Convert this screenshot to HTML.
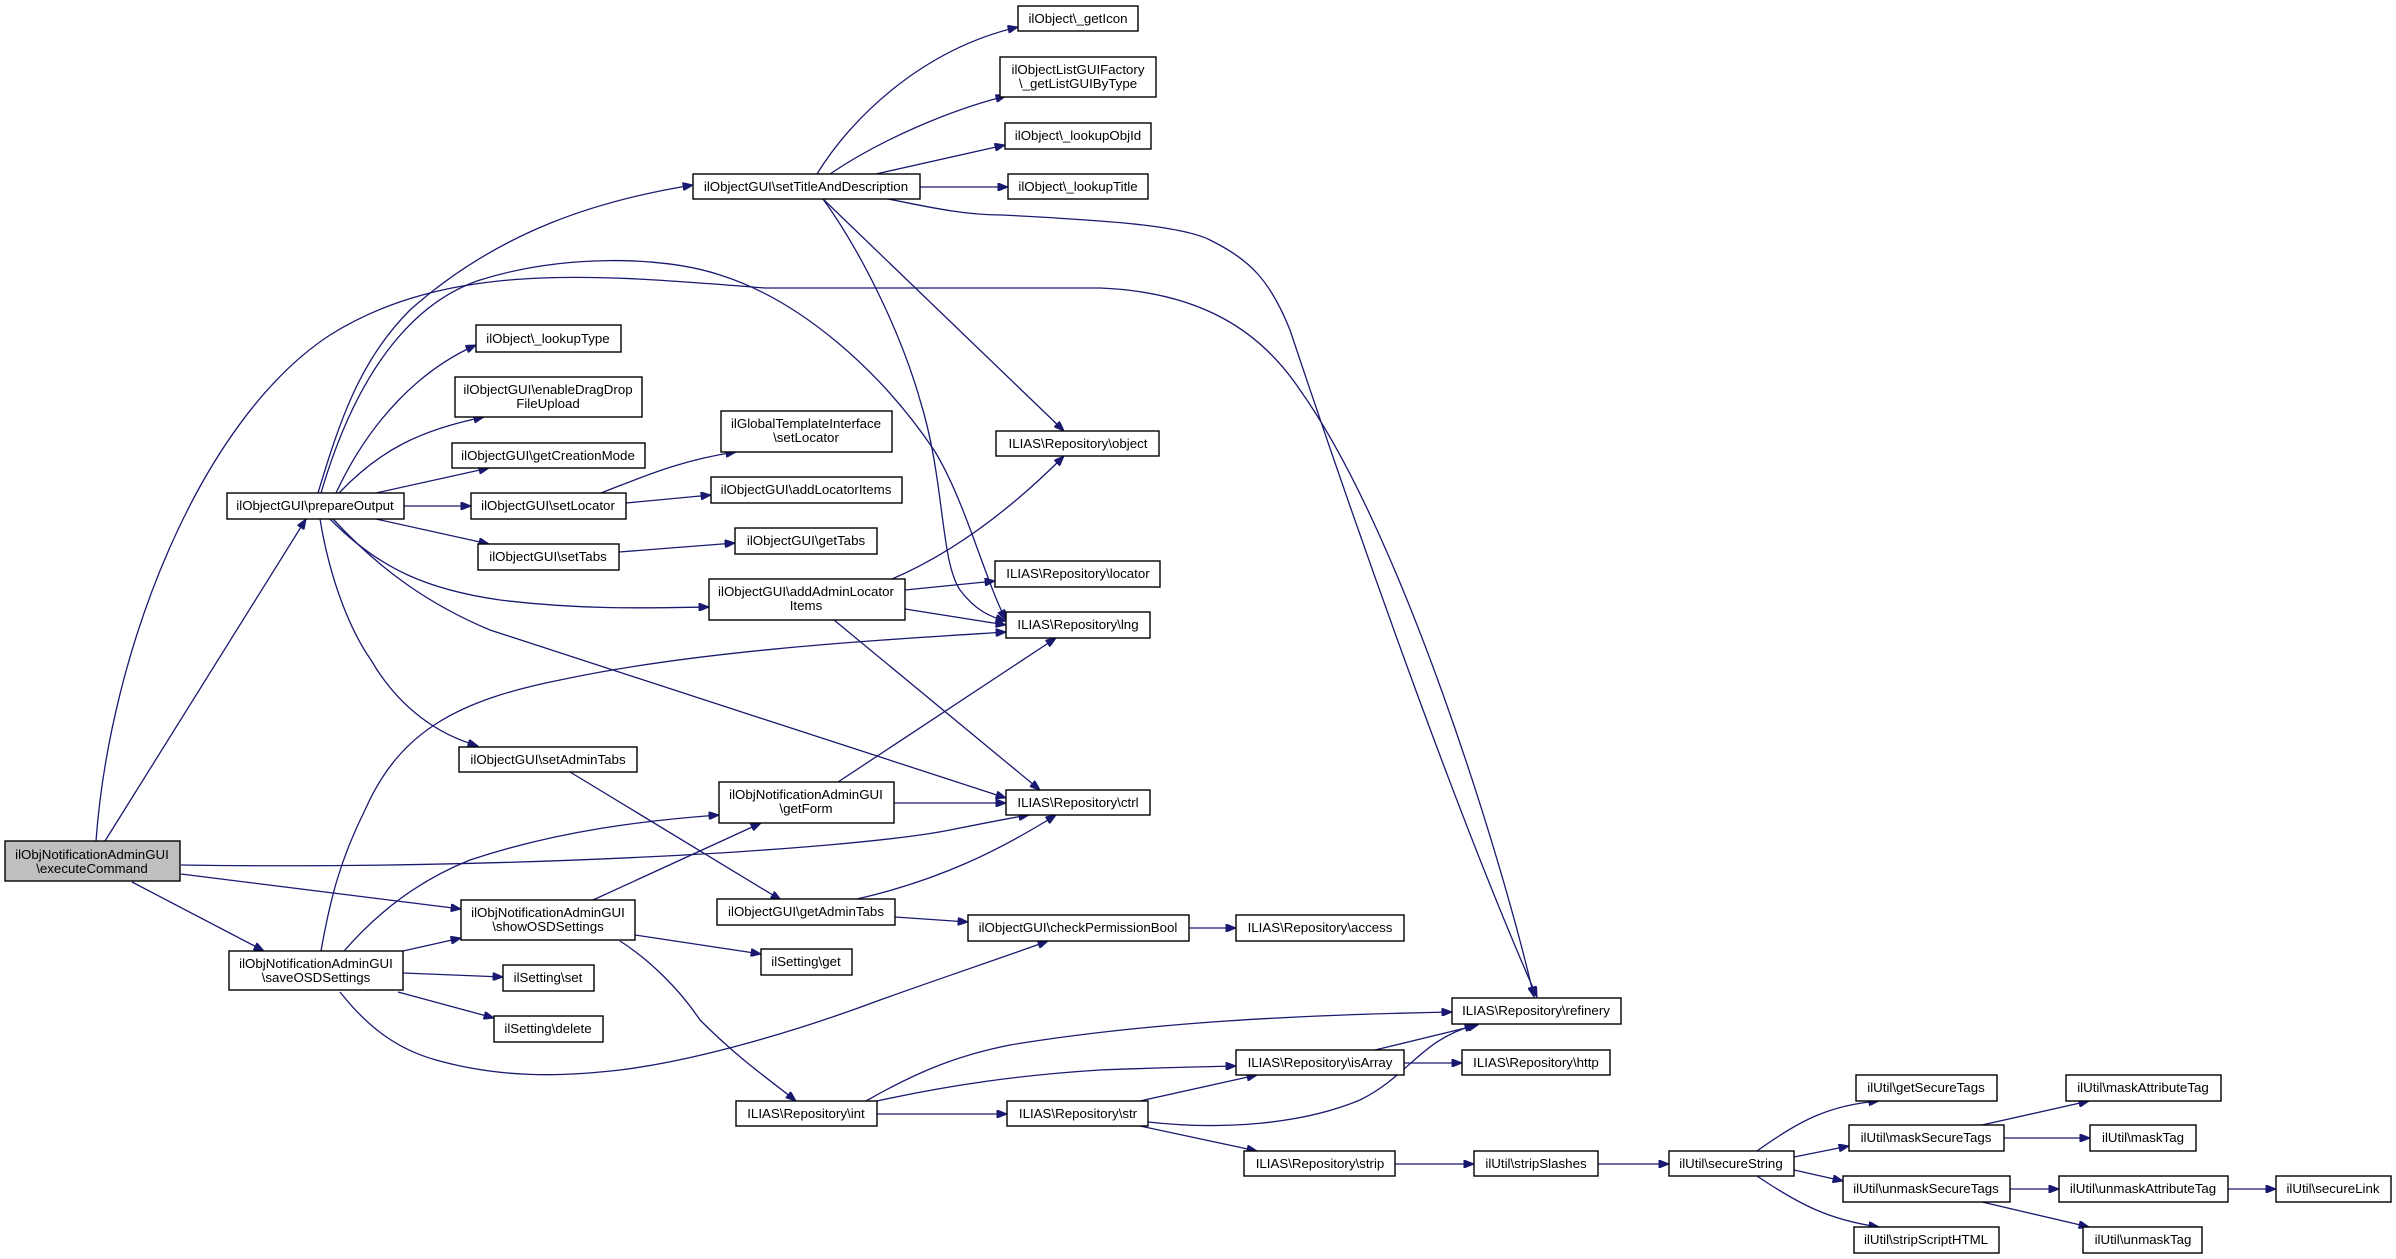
<!DOCTYPE html>
<html><head><meta charset="utf-8"><style>
html,body{margin:0;padding:0;background:#fff;}
svg{display:block;}
text{font-family:"Liberation Sans",Arial,sans-serif;font-size:13.3px;fill:#000;text-anchor:middle;}
.e{fill:none;stroke:#191970;stroke-width:1.3;marker-end:url(#a);}
.n{fill:#fff;stroke:#000;stroke-width:1.4;}
</style></head><body>
<svg width="2396" height="1259" viewBox="0 0 2396 1259" xmlns="http://www.w3.org/2000/svg">
<defs><marker id="a" viewBox="0 0 10 8" refX="10" refY="4" markerWidth="11" markerHeight="8" markerUnits="userSpaceOnUse" orient="auto"><path d="M0,0 L10,4 L0,8 z" fill="#191970" stroke="#191970"/></marker></defs>

<!-- edges -->
<path class="e" d="M105,841 L306,519"/>
<path class="e" d="M96,841 C110,650 200,420 330,335 C450,260 600,275 765,288 L1100,288 C1200,292 1260,330 1300,390 C1400,530 1500,850 1534,997"/>
<path class="e" d="M181,865 C500,870 850,850 950,830 C990,822 1010,818 1029,815"/>
<path class="e" d="M181,874 L461,909"/>
<path class="e" d="M132,882 L264,951"/>
<path class="e" d="M318,493 C340,420 360,360 410,310 C500,230 600,200 693,185"/>
<path class="e" d="M321,493 C360,360 420,300 480,280 C560,255 660,255 720,275 C800,300 880,370 934,450 C965,500 985,580 1006,620"/>
<path class="e" d="M336,493 C370,420 420,370 476,345"/>
<path class="e" d="M339,493 C380,450 420,430 484,417"/>
<path class="e" d="M376,493 L489,468"/>
<path class="e" d="M404,506 L471,506"/>
<path class="e" d="M376,519 L489,544"/>
<path class="e" d="M330,519 C380,570 430,590 500,600 C580,610 650,608 709,607"/>
<path class="e" d="M333,519 C380,570 430,605 490,630 L1006,798"/>
<path class="e" d="M320,519 C330,580 350,630 371,660 C400,710 440,735 478,746"/>
<path class="e" d="M817,174 C850,120 920,50 1018,27"/>
<path class="e" d="M830,174 C880,140 950,110 1006,96"/>
<path class="e" d="M876,174 L1005,145"/>
<path class="e" d="M920,187 L1008,187"/>
<path class="e" d="M888,199 C920,205 960,215 1002,215 C1100,220 1180,225 1210,240 C1250,260 1270,280 1290,330 C1340,480 1450,800 1537,997"/>
<path class="e" d="M823,199 L1064,431"/>
<path class="e" d="M823,199 C860,250 900,330 920,400 C945,480 940,560 960,590 C975,610 990,617 1006,621"/>
<path class="e" d="M601,493 C640,478 680,460 736,452"/>
<path class="e" d="M626,503 L711,495"/>
<path class="e" d="M619,552 L735,543"/>
<path class="e" d="M892,579 C960,550 1020,500 1064,456"/>
<path class="e" d="M905,590 L995,581"/>
<path class="e" d="M905,609 L1006,625"/>
<path class="e" d="M834,620 L1040,790"/>
<path class="e" d="M321,951 C330,900 340,860 365,810 C400,730 460,700 560,680 C700,650 880,640 1006,632"/>
<path class="e" d="M344,951 C380,910 420,880 470,860 C560,830 650,820 719,815"/>
<path class="e" d="M403,951 L461,938"/>
<path class="e" d="M403,973 L503,977"/>
<path class="e" d="M398,992 L494,1018"/>
<path class="e" d="M340,992 C370,1030 400,1050 436,1060 C500,1078 560,1077 620,1070 C700,1060 800,1030 880,1000 C950,975 1010,955 1048,941"/>
<path class="e" d="M593,900 L761,823"/>
<path class="e" d="M635,935 L761,954"/>
<path class="e" d="M620,941 C650,960 680,990 700,1020 C740,1060 770,1080 796,1101"/>
<path class="e" d="M570,772 L781,900"/>
<path class="e" d="M838,782 L1056,638"/>
<path class="e" d="M894,803 L1006,803"/>
<path class="e" d="M857,899 C940,880 1000,850 1056,815"/>
<path class="e" d="M895,917 L968,922"/>
<path class="e" d="M1189,928 L1236,928"/>
<path class="e" d="M866,1101 C920,1070 960,1055 1010,1045 C1150,1022 1300,1015 1452,1012"/>
<path class="e" d="M877,1101 C950,1085 1020,1075 1100,1070 C1150,1068 1190,1067 1236,1066"/>
<path class="e" d="M877,1114 L1007,1114"/>
<path class="e" d="M1140,1101 L1257,1075"/>
<path class="e" d="M1148,1122 C1220,1130 1300,1125 1360,1100 C1410,1075 1420,1040 1475,1025"/>
<path class="e" d="M1140,1126 L1257,1151"/>
<path class="e" d="M1375,1050 L1478,1025"/>
<path class="e" d="M1404,1063 L1462,1063"/>
<path class="e" d="M1395,1164 L1474,1164"/>
<path class="e" d="M1598,1164 L1669,1164"/>
<path class="e" d="M1757,1151 C1800,1120 1830,1105 1879,1101"/>
<path class="e" d="M1794,1157 L1849,1146"/>
<path class="e" d="M1794,1170 L1843,1181"/>
<path class="e" d="M1757,1176 C1800,1205 1830,1220 1879,1227"/>
<path class="e" d="M1982,1125 L2089,1101"/>
<path class="e" d="M2004,1138 L2090,1138"/>
<path class="e" d="M2010,1189 L2059,1189"/>
<path class="e" d="M1982,1202 L2089,1227"/>
<path class="e" d="M2228,1189 L2276,1189"/>

<!-- nodes -->
<rect x="5" y="841" width="175" height="40" fill="#bfbfbf" stroke="#000" stroke-width="1.4"/>
<text x="92" y="859">ilObjNotificationAdminGUI</text><text x="92" y="873">\executeCommand</text>

<rect class="n" x="1018" y="6" width="120" height="25"/><text x="1078" y="23">ilObject\_getIcon</text>
<rect class="n" x="1000" y="57" width="156" height="40"/><text x="1078" y="74">ilObjectListGUIFactory</text><text x="1078" y="88">\_getListGUIByType</text>
<rect class="n" x="1005" y="123" width="146" height="26"/><text x="1078" y="140">ilObject\_lookupObjId</text>
<rect class="n" x="1008" y="174" width="140" height="25"/><text x="1078" y="191">ilObject\_lookupTitle</text>
<rect class="n" x="693" y="174" width="227" height="25"/><text x="806" y="191">ilObjectGUI\setTitleAndDescription</text>
<rect class="n" x="476" y="325" width="145" height="27"/><text x="548" y="343">ilObject\_lookupType</text>
<rect class="n" x="455" y="377" width="187" height="40"/><text x="548" y="394">ilObjectGUI\enableDragDrop</text><text x="548" y="408">FileUpload</text>
<rect class="n" x="452" y="443" width="193" height="25"/><text x="548" y="460">ilObjectGUI\getCreationMode</text>
<rect class="n" x="721" y="411" width="171" height="41"/><text x="806" y="428">ilGlobalTemplateInterface</text><text x="806" y="442">\setLocator</text>
<rect class="n" x="996" y="431" width="163" height="25"/><text x="1078" y="448">ILIAS\Repository\object</text>
<rect class="n" x="711" y="477" width="191" height="26"/><text x="806" y="494">ilObjectGUI\addLocatorItems</text>
<rect class="n" x="227" y="493" width="177" height="26"/><text x="315" y="510">ilObjectGUI\prepareOutput</text>
<rect class="n" x="471" y="493" width="155" height="26"/><text x="548" y="510">ilObjectGUI\setLocator</text>
<rect class="n" x="735" y="528" width="142" height="26"/><text x="806" y="545">ilObjectGUI\getTabs</text>
<rect class="n" x="478" y="544" width="141" height="26"/><text x="548" y="561">ilObjectGUI\setTabs</text>
<rect class="n" x="995" y="561" width="165" height="26"/><text x="1078" y="578">ILIAS\Repository\locator</text>
<rect class="n" x="709" y="579" width="196" height="41"/><text x="806" y="596">ilObjectGUI\addAdminLocator</text><text x="806" y="610">Items</text>
<rect class="n" x="1006" y="612" width="144" height="26"/><text x="1078" y="629">ILIAS\Repository\lng</text>
<rect class="n" x="459" y="747" width="178" height="25"/><text x="548" y="764">ilObjectGUI\setAdminTabs</text>
<rect class="n" x="719" y="782" width="175" height="41"/><text x="806" y="799">ilObjNotificationAdminGUI</text><text x="806" y="813">\getForm</text>
<rect class="n" x="1006" y="790" width="144" height="25"/><text x="1078" y="807">ILIAS\Repository\ctrl</text>
<rect class="n" x="717" y="899" width="178" height="26"/><text x="806" y="916">ilObjectGUI\getAdminTabs</text>
<rect class="n" x="968" y="915" width="221" height="26"/><text x="1078" y="932">ilObjectGUI\checkPermissionBool</text>
<rect class="n" x="461" y="900" width="174" height="40"/><text x="548" y="917">ilObjNotificationAdminGUI</text><text x="548" y="931">\showOSDSettings</text>
<rect class="n" x="229" y="951" width="174" height="39"/><text x="316" y="968">ilObjNotificationAdminGUI</text><text x="316" y="982">\saveOSDSettings</text>
<rect class="n" x="761" y="949" width="91" height="26"/><text x="806" y="966">ilSetting\get</text>
<rect class="n" x="503" y="965" width="91" height="26"/><text x="548" y="982">ilSetting\set</text>
<rect class="n" x="494" y="1016" width="109" height="26"/><text x="548" y="1033">ilSetting\delete</text>
<rect class="n" x="736" y="1101" width="141" height="25"/><text x="806" y="1118">ILIAS\Repository\int</text>
<rect class="n" x="1007" y="1101" width="141" height="25"/><text x="1078" y="1118">ILIAS\Repository\str</text>
<rect class="n" x="1236" y="915" width="168" height="26"/><text x="1320" y="932">ILIAS\Repository\access</text>
<rect class="n" x="1452" y="998" width="169" height="26"/><text x="1536" y="1015">ILIAS\Repository\refinery</text>
<rect class="n" x="1236" y="1050" width="168" height="25"/><text x="1320" y="1067">ILIAS\Repository\isArray</text>
<rect class="n" x="1462" y="1050" width="148" height="25"/><text x="1536" y="1067">ILIAS\Repository\http</text>
<rect class="n" x="1856" y="1075" width="141" height="26"/><text x="1926" y="1092">ilUtil\getSecureTags</text>
<rect class="n" x="2066" y="1075" width="155" height="26"/><text x="2143" y="1092">ilUtil\maskAttributeTag</text>
<rect class="n" x="1849" y="1125" width="155" height="26"/><text x="1926" y="1142">ilUtil\maskSecureTags</text>
<rect class="n" x="2090" y="1125" width="106" height="26"/><text x="2143" y="1142">ilUtil\maskTag</text>
<rect class="n" x="1244" y="1151" width="151" height="25"/><text x="1320" y="1168">ILIAS\Repository\strip</text>
<rect class="n" x="1474" y="1151" width="124" height="25"/><text x="1536" y="1168">ilUtil\stripSlashes</text>
<rect class="n" x="1669" y="1151" width="125" height="25"/><text x="1731" y="1168">ilUtil\secureString</text>
<rect class="n" x="1843" y="1176" width="167" height="26"/><text x="1926" y="1193">ilUtil\unmaskSecureTags</text>
<rect class="n" x="2059" y="1176" width="169" height="26"/><text x="2143" y="1193">ilUtil\unmaskAttributeTag</text>
<rect class="n" x="2276" y="1176" width="115" height="26"/><text x="2333" y="1193">ilUtil\secureLink</text>
<rect class="n" x="1854" y="1227" width="145" height="26"/><text x="1926" y="1244">ilUtil\stripScriptHTML</text>
<rect class="n" x="2083" y="1227" width="119" height="26"/><text x="2143" y="1244">ilUtil\unmaskTag</text>
</svg>
</body></html>
